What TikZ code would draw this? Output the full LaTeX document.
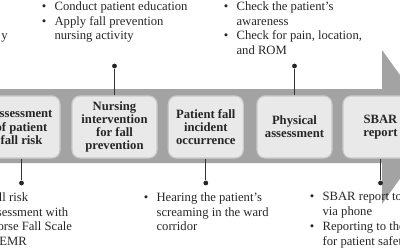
\documentclass[tikz,border=0pt]{standalone}
\usepackage{fontspec}
\setmainfont{Liberation Serif}
\usepackage{tikz}
\newcommand{\bul}{\makebox[0.32cm][l]{\textbullet}}
\newcommand{\nobul}{\hspace*{0.32cm}}
\tikzset{
  band/.style={fill=gray!72,draw=none},
  stage/.style={draw=gray!42,line width=0.8pt,fill=gray!17,rounded corners=2mm,
    minimum height=1.55cm,align=center,inner sep=1pt,text=black!85,
    font=\bfseries\fontsize{9}{9.4}\selectfont},
  dot/.style={circle,fill=black!85,inner sep=0pt,minimum size=1.2mm},
  stem/.style={line width=0.6pt,draw=black!80},
  note/.style={anchor=north west,inner sep=0pt,align=left,text=black!85,
    font=\fontsize{9}{10.46}\selectfont},
}
\begin{document}
\begin{tikzpicture}[x=0.025cm,y=-0.025cm]
\useasboundingbox (0,0) rectangle (400,250);
\clip (0,0) rectangle (400,250);
% big arrow
\draw[band] (-40,89) -- (382,89) -- (382,50) -- (437,126.5) -- (382,204) -- (382,163) -- (-40,163) -- cycle;
% stages
\node[stage,minimum width=1.925cm] (assess) at (21.5,127) {Assessment\\of patient\\fall risk};
\node[stage,minimum width=2.125cm] (interv) at (114.5,127) {Nursing\\intervention\\for fall\\prevention};
\node[stage,minimum width=1.875cm] (incident) at (205.8,127) {Patient fall\\incident\\occurrence};
\node[stage,minimum width=1.875cm] (physical) at (294.5,127) {Physical\\assessment};
\node[stage,minimum width=1.875cm] (sbar) at (380.5,127) {SBAR\\report};
% stems and dots
\node[dot] (assessdot) at (21.5,183){}; \node[dot] (intervdot) at (114.5,66){};
\node[dot] (incidentdot) at (205.8,183){}; \node[dot] (physicaldot) at (294.5,66){};
\node[dot] (sbardot) at (380.5,183){};
\draw[stem] (assess.south) -- (assessdot); \draw[stem] (interv.north) -- (intervdot);
\draw[stem] (incident.south) -- (incidentdot); \draw[stem] (physical.north) -- (physicaldot);
\draw[stem] (sbar.south) -- (sbardot);
% notes
\node[note,anchor=base east] (prevnote) at (8,39.4) {y};
\node[note] (intervnote) at (41.5,1.3) {\bul Conduct patient education\\\bul Apply fall prevention\\\nobul nursing activity};
\node[note] (physicalnote) at (223.5,1.3) {\bul Check the patient's\\\nobul awareness\\\bul Check for pain, location,\\\nobul and ROM};
\node[note] (assessnote) at (-26.8,192.3) {\bul Fall risk\\\nobul assessment with\\\nobul Morse Fall Scale\\\nobul in EMR};
\node[note] (incidentnote) at (143.5,192.3) {\bul Hearing the patient's\\\nobul screaming in the ward\\\nobul corridor};
\node[note] (sbarnote) at (309.5,192.3) {\bul SBAR report to\\\nobul via phone\\\bul Reporting to the\\\nobul for patient safety};
\end{tikzpicture}
\end{document}
